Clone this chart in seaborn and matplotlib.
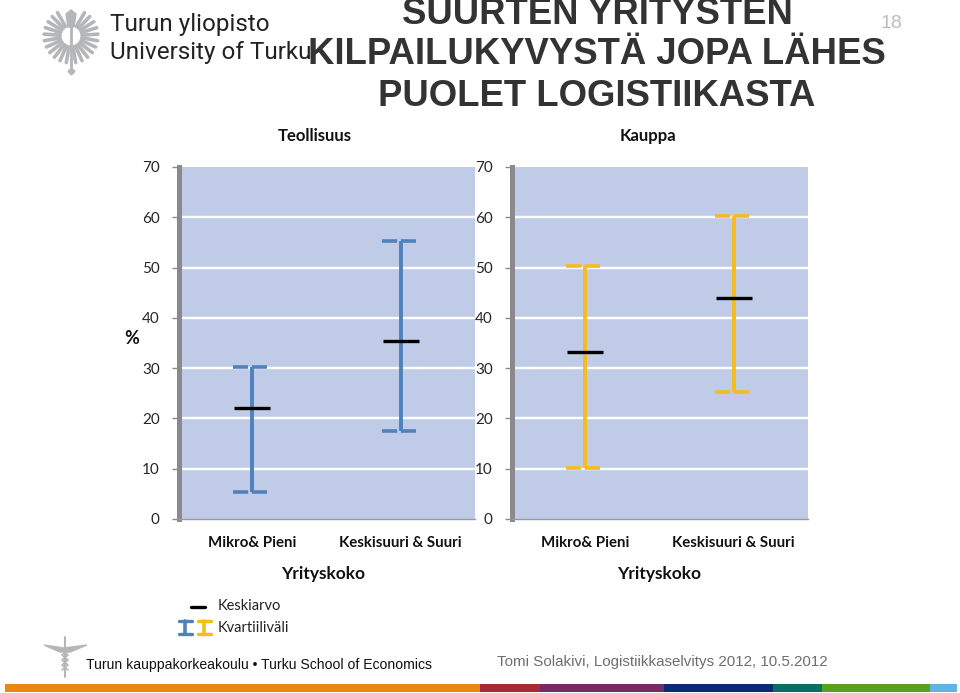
import numpy as np
import pandas as pd
import matplotlib
matplotlib.use("Agg")
import matplotlib.pyplot as plt
from matplotlib.patches import Rectangle, Polygon
import seaborn as sns

categories = ["Mikro& Pieni", "Keskisuuri & Suuri"]
teollisuus_q1 = [5.3, 17.5]
teollisuus_mean = [22.0, 35.3]
teollisuus_q3 = [30.3, 55.3]
kauppa_q1 = [10.2, 25.2]
kauppa_mean = [33.2, 43.9]
kauppa_q3 = [50.3, 60.3]
yticks = [0, 10, 20, 30, 40, 50, 60, 70]
title_lines = ["SUURTEN YRITYSTEN", "KILPAILUKYVYSTÄ JOPA LÄHES", "PUOLET LOGISTIIKASTA"]

W, H = 960, 693
sns.set_theme(style="white")
plt.rcParams["font.family"] = ["Lato", "DejaVu Sans"]
fig = plt.figure(figsize=(W / 100, H / 100), dpi=100, facecolor="white")

bg = fig.add_axes([0, 0, 1, 1])
bg.set_xlim(0, W)
bg.set_ylim(H, 0)
bg.axis("off")

def panel(left, right, q1, mean, q3, color):
    top, bottom = 167, 519
    ax = fig.add_axes([left / W, 1 - bottom / H, (right - left) / W, (bottom - top) / H])
    ax.set_facecolor("#C0CCE7")
    df = pd.DataFrame({"size": categories, "mean": mean})
    x = np.arange(len(categories))
    ax.vlines(x, q1, q3, color=color, lw=2.8, zorder=3)
    for vals in (q1, q3):
        for xi, v in zip(x, vals):
            ax.plot([xi - 0.125, xi + 0.125], [v, v], color=color, lw=2.6,
                    dashes=(4.2, 1.0), zorder=3, solid_capstyle="butt", dash_capstyle="butt")
    sns.pointplot(data=df, x="size", y="mean", linestyle="none", marker="_", color="black",
                  markersize=26, markeredgewidth=2.4, ax=ax, zorder=4, errorbar=None)
    ax.set_xlim(-0.5, 1.5)
    ax.set_ylim(0, 70)
    ax.set_xlabel("")
    ax.set_ylabel("")
    ax.set_yticks(yticks)
    ax.set_yticklabels([str(t) for t in yticks], fontsize=9.5, fontweight="bold", color="black")
    ax.set_xticks([-0.5, 0.5, 1.5], labels=[])
    ax.set_xticks([0, 1], labels=categories, minor=True)
    ax.tick_params(axis="x", which="minor", length=0, pad=12, labelsize=10.8)
    for lab in ax.get_xticklabels(minor=True):
        lab.set_fontweight("bold")
        lab.set_color("#111111")
    ax.tick_params(axis="x", which="major", length=4, width=1, color="#8A8A8E", direction="out")
    ax.tick_params(axis="y", length=5, width=1, color="#8A8A8E", pad=9, left=True)
    ax.grid(False)
    for y in yticks[1:-1]:
        ax.axhline(y, color="white", lw=1.7, zorder=1)
    for s in ("top", "right"):
        ax.spines[s].set_visible(False)
    ax.spines["left"].set_color("#8A8A8E")
    ax.spines["left"].set_linewidth(3.6)
    ax.spines["left"].set_position(("outward", -1.3))
    ax.spines["bottom"].set_color("#9A9A9E")
    ax.spines["bottom"].set_linewidth(1)
    return ax

panel(177.5, 475, teollisuus_q1, teollisuus_mean, teollisuus_q3, "#4F81BD")
panel(510.5, 808, kauppa_q1, kauppa_mean, kauppa_q3, "#F5BC1C")

def txt(x, y, s, **kw):
    kw.setdefault("va", "center")
    bg.text(x, y, s, **kw)

# titles of the slide
for y, line in zip([14, 55, 96], title_lines):
    txt(597, y, line, ha="center", fontsize=26.3, fontweight="bold",
        family="Liberation Sans", color="#333333")
txt(891, 24, "18", ha="center", fontsize=14, family="Liberation Sans", color="#BDBDBD")

txt(314.5, 136, "Teollisuus", ha="center", fontsize=12, fontweight="bold", color="#111111")
txt(648, 136, "Kauppa", ha="center", fontsize=12, fontweight="bold", color="#111111")
txt(132, 338, "%", ha="center", fontsize=13, fontweight="bold", color="#111111")
txt(323, 574, "Yrityskoko", ha="center", fontsize=12.5, fontweight="bold", color="#111111")
txt(659, 574, "Yrityskoko", ha="center", fontsize=12.5, fontweight="bold", color="#111111")

# legend
txt(218, 606, "Keskiarvo", fontsize=10.5, color="#222222")
txt(218, 628, "Kvartiiliväli", fontsize=10.5, color="#222222")
bg.plot([191, 205], [606.5, 606.5], color="black", lw=2.4)
for cx, c in [(185, "#4F81BD"), (204, "#F5BC1C")]:
    bg.plot([cx, cx], [621, 634], color=c, lw=2.6)
    bg.plot([cx - 6.5, cx + 6.5], [621, 621], color=c, lw=2.4)
    bg.plot([cx - 6.5, cx + 6.5], [634, 634], color=c, lw=2.4)

# university logo
txt(110, 25, "Turun yliopisto", fontsize=17.5, family="Roboto", stretch="condensed", color="#222222")
txt(110, 52, "University of Turku", fontsize=17.5, family="Roboto", stretch="condensed", color="#222222")
gray = "#B4B6B8"
cx, cy = 71, 36
for a in np.linspace(-80, 60, 11):
    for sgn in (-1, 1):
        r0, r1 = 11, 27
        t = np.deg2rad(a)
        bg.plot([cx + sgn * r0 * np.cos(t), cx + sgn * r1 * np.cos(t)],
                [cy - r0 * np.sin(t), cy - r1 * np.sin(t)], color=gray, lw=2.6)
bg.plot([71, 71], [20, 72], color=gray, lw=2)
bg.plot(71, 71, marker="D", ms=3.5, color=gray)
bg.add_patch(Polygon([[66, 14], [71, 10], [76, 14], [74, 27], [68, 27]], color=gray))

# school logo
bg.add_patch(Polygon([[44, 645], [64, 648], [87, 645], [70, 652], [60, 652]], color=gray))
bg.plot([65, 65], [637, 677], color=gray, lw=1.5)
t_vals = [650, 655, 660, 665, 670]
bg.plot([62, 68, 62, 68, 62], t_vals, color=gray, lw=1.2)
bg.plot([68, 62, 68, 62, 68], t_vals, color=gray, lw=1.2)

txt(86.5, 665, "Turun kauppakorkeakoulu • Turku School of Economics", fontsize=10.05,
    family="Liberation Sans", color="#111111")
txt(497, 662, "Tomi Solakivi, Logistiikkaselvitys 2012, 10.5.2012", fontsize=10.9,
    family="Liberation Sans", color="#6E6E6E")

# colour strip at the foot of the slide
strip = [(5, 480, "#E8880F"), (480, 540, "#A82A35"), (540, 664, "#752B63"),
         (664, 773, "#0A2A78"), (773, 822, "#0A6F62"), (822, 930, "#58A020"), (930, 957, "#62B2E2")]
for x0, x1, c in strip:
    bg.add_patch(Rectangle((x0, 684), x1 - x0, 8, color=c, lw=0))

fig.savefig("out.png", dpi=100)
